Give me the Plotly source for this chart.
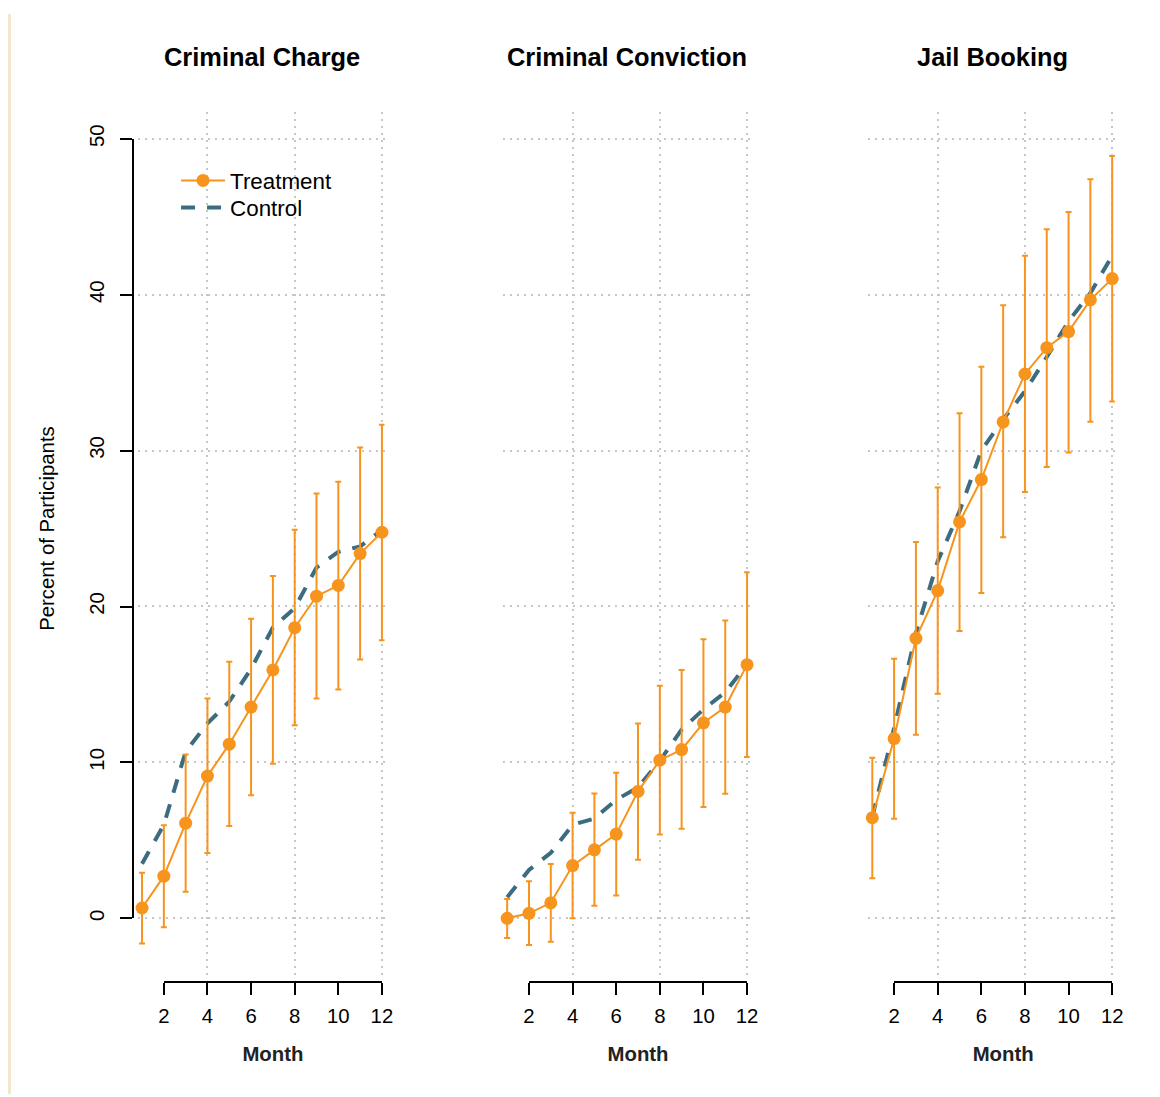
import plotly.graph_objects as go

# ---------------- data ----------------
months = list(range(1, 13))
month_ticks = [2, 4, 6, 8, 10, 12]
pct_ticks = [0, 10, 20, 30, 40, 50]
panel_titles = ["Criminal Charge", "Criminal Conviction", "Jail Booking"]

charge_treat = [0.66, 2.70, 6.10, 9.12, 11.17, 13.55, 15.93, 18.64, 20.66, 21.35, 23.39, 24.76]
charge_upper = [2.92, 5.96, 10.50, 14.10, 16.46, 19.22, 21.95, 24.92, 27.24, 28.00, 30.20, 31.65]
charge_lower = [-1.61, -0.58, 1.71, 4.18, 5.92, 7.89, 9.92, 12.38, 14.10, 14.68, 16.60, 17.84]
charge_ctrl = [3.50, 6.00, 10.70, 12.50, 13.90, 16.00, 18.65, 19.90, 22.50, 23.50, 23.85, 24.90]

conv_treat = [0.00, 0.32, 0.99, 3.38, 4.39, 5.40, 8.14, 10.14, 10.82, 12.54, 13.55, 16.27]
conv_upper = [1.24, 2.38, 3.49, 6.77, 8.00, 9.34, 12.49, 14.92, 15.92, 17.90, 19.10, 22.20]
conv_lower = [-1.26, -1.71, -1.50, 0.00, 0.81, 1.46, 3.75, 5.38, 5.74, 7.14, 7.99, 10.35]
conv_ctrl = [1.35, 3.10, 4.20, 6.00, 6.40, 7.60, 8.40, 10.10, 12.10, 13.40, 14.50, 16.30]

jail_treat = [6.45, 11.53, 17.96, 21.02, 25.42, 28.14, 31.84, 34.91, 36.60, 37.63, 39.67, 41.03]
jail_upper = [10.30, 16.65, 24.13, 27.63, 32.40, 35.38, 39.32, 42.50, 44.20, 45.30, 47.40, 48.90]
jail_lower = [2.57, 6.39, 11.77, 14.40, 18.43, 20.87, 24.44, 27.35, 28.94, 29.88, 31.85, 33.14]
jail_ctrl = [6.50, 12.20, 18.30, 22.90, 26.10, 30.00, 32.00, 33.80, 36.00, 38.30, 40.10, 42.50]

treat = [charge_treat, conv_treat, jail_treat]
upper = [charge_upper, conv_upper, jail_upper]
lower = [charge_lower, conv_lower, jail_lower]
ctrl = [charge_ctrl, conv_ctrl, jail_ctrl]

# ---------------- styling / layout geometry ----------------
W, H = 1160, 1097
ORANGE = "#F7941E"
BLUE = "#3B6C80"
GRID = "#C6C6C6"
FONT = "Liberation Sans, Arial, Helvetica, sans-serif"

# mapping from target-image pixels to page pixels (compensates the capture framing)
AX, BX = 0.985, 5.0
AY, BY = 0.982, 14.0
S = 1 / 0.9835  # size compensation

px_per_month = 21.8
first_month_px = [141, 506, 871]
xr = [0.8, 12.12]
yr = [-3.666, 51.70]
plot_top_px, plot_bot_px = 112, 973
y0_px, y50_px = 916, 138.5


def px(x):
    return ((x - BX) / AX) / W


def py(y):
    return 1 - ((y - BY) / AY) / H


def fs(v):
    return round(v * S, 2)


fig = go.Figure()
layout = dict(
    width=W, height=H,
    margin=dict(l=0, r=0, t=0, b=0),
    paper_bgcolor="white", plot_bgcolor="rgba(0,0,0,0)",
    font=dict(family=FONT, color="black", size=fs(20)),
    showlegend=True,
    legend=dict(
        x=px(175), y=py(159), xanchor="left", yanchor="top",
        bgcolor="rgba(0,0,0,0)", borderwidth=0,
        font=dict(size=fs(22), family=FONT, color="black"),
        itemwidth=44,
    ),
    legend2=dict(
        x=px(175), y=py(186), xanchor="left", yanchor="top",
        bgcolor="rgba(0,0,0,0)", borderwidth=0,
        font=dict(size=fs(22), family=FONT, color="black"),
        itemwidth=44,
    ),
)

annotations = []
for i in range(3):
    k = "" if i == 0 else str(i + 1)
    x1 = first_month_px[i]
    left = x1 + (xr[0] - 1) * px_per_month
    right = x1 + (xr[1] - 1) * px_per_month
    layout["xaxis" + k] = dict(
        domain=[px(left), px(right)], range=xr, showgrid=True,
        gridcolor=GRID, griddash="2px,5px", gridwidth=1.5,
        tickvals=[4, 8, 12], showticklabels=False, ticks="",
        zeroline=False, showline=False, anchor="y" + k,
    )
    layout["yaxis" + k] = dict(
        domain=[py(plot_bot_px), py(plot_top_px)], range=yr, showgrid=True,
        gridcolor=GRID, griddash="2px,5px", gridwidth=1.5,
        tickvals=pct_ticks, showticklabels=False, ticks="",
        zeroline=False, showline=False, anchor="x" + k,
    )

    xa = "x" if i == 0 else "x" + str(i + 1)
    ya = "y" if i == 0 else "y" + str(i + 1)

    fig.add_trace(go.Scatter(
        x=months, y=ctrl[i], mode="lines", name="Control",
        line=dict(color=BLUE, width=4, dash="14px,12px"),
        xaxis=xa, yaxis=ya, showlegend=(i == 0), legend="legend2",
        hoverinfo="skip",
    ))
    fig.add_trace(go.Scatter(
        x=months, y=treat[i], mode="lines+markers", name="Treatment",
        line=dict(color=ORANGE, width=2),
        marker=dict(color=ORANGE, size=13),
        error_y=dict(
            type="data", symmetric=False,
            array=[u - v for u, v in zip(upper[i], treat[i])],
            arrayminus=[v - l for v, l in zip(treat[i], lower[i])],
            color=ORANGE, thickness=2, width=3,
        ),
        xaxis=xa, yaxis=ya, showlegend=(i == 0), legend="legend",
        cliponaxis=False, hoverinfo="skip",
    ))

    # axis-only subplots (R-style detached axes)
    ka = str(i + 4)
    layout["xaxis" + ka] = dict(
        domain=[px(x1 + px_per_month), px(x1 + 11 * px_per_month)],
        range=[month_ticks[0], month_ticks[-1]],
        anchor="free", position=py(980),
        showline=True, linecolor="black", linewidth=2,
        ticks="outside", ticklen=12, tickwidth=2, tickcolor="black",
        tickvals=month_ticks, showgrid=False, zeroline=False,
        ticklabelstandoff=3,
        tickfont=dict(size=fs(20), family=FONT, color="black"),
        title=dict(text="<b>Month</b>", font=dict(size=fs(20), family=FONT, color="#222"), standoff=20),
    )
    if i == 0:
        layout["yaxis" + ka] = dict(
            domain=[py(y0_px), py(y50_px)], range=[pct_ticks[0], pct_ticks[-1]],
            anchor="free", position=px(132),
            showline=True, linecolor="black", linewidth=2,
            ticks="outside", ticklen=12, tickwidth=2, tickcolor="black",
            tickvals=pct_ticks, tickangle=-90, showgrid=False, zeroline=False,
            ticklabelstandoff=8,
            tickfont=dict(size=fs(20), family=FONT, color="black"),
            title=dict(text="Percent of Participants", font=dict(size=fs(20), family=FONT, color="black"), standoff=25),
        )
    else:
        layout["yaxis" + ka] = dict(
            domain=[py(y0_px), py(y50_px)], range=[0, 50], visible=False,
            anchor="free", position=0,
        )
    fig.add_trace(go.Scatter(
        x=[None], y=[None], xaxis="x" + ka, yaxis="y" + ka,
        showlegend=False, hoverinfo="skip",
    ))

    annotations.append(dict(
        text="<b>" + panel_titles[i] + "</b>", xref="paper", yref="paper",
        x=px(x1 + 5.5 * px_per_month), y=py(57), xanchor="center", yanchor="middle",
        showarrow=False, font=dict(size=fs(25), family=FONT, color="black"),
    ))

layout["annotations"] = annotations
layout["shapes"] = [
    dict(type="rect", xref="paper", yref="paper", x0=px(7), x1=px(10), y0=0, y1=1,
         fillcolor="#F1E8CB", line=dict(width=0), layer="above"),
]
fig.update_layout(**layout)

fig.write_html(
    "out.html",
    config={"displayModeBar": False},
    post_script="document.body.style.margin='0px';document.body.style.padding='0px';",
)
